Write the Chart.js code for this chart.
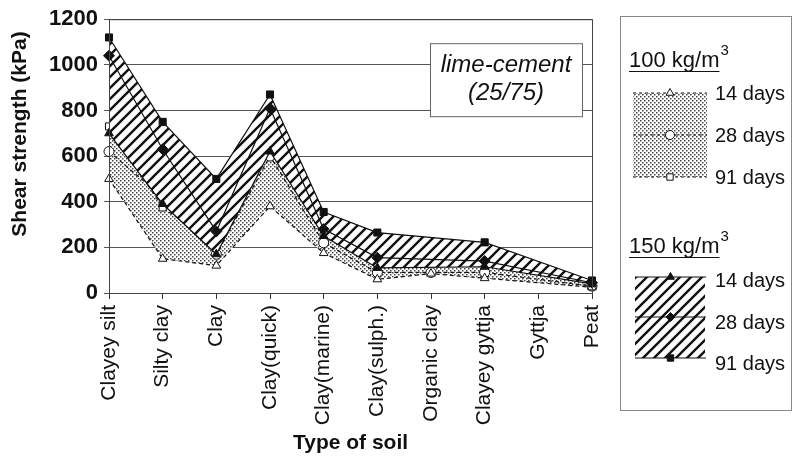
<!DOCTYPE html>
<html>
<head>
<meta charset="utf-8">
<script src="https://cdn.jsdelivr.net/npm/chart.js@4/dist/chart.umd.min.js"></script>
<style>
  html, body { margin: 0; padding: 0; background: #fff; }
  canvas { display: block; }
</style>
</head>
<body>
<canvas id="chart" width="794" height="456"></canvas>
<script>
// soil types along the x axis
var soils = ['Clayey silt', 'Silty clay', 'Clay', 'Clay(quick)', 'Clay(marine)',
             'Clay(sulph.)', 'Organic clay', 'Clayey gyttja', 'Gyttja', 'Peat'];

// shear strength (kPa), binder 150 kg/m3
var b150d14 = [700, 390, 170, 620, 250, 110, null, 115, null, 40];
var b150d28 = [1040, 630, 270, 810, 280, 155, null, 140, null, 45];
var b150d91 = [1120, 750, 500, 870, 355, 265, null, 222, null, 55];

// shear strength (kPa), binder 100 kg/m3
var b100d14 = [500, 150, 120, 380, 175, 60, 85, 65, null, 25];
var b100d28 = [620, 420, 170, 600, 220, 90, 90, 90, null, 30];
var b100d91 = [730, 375, 210, 730, 250, 120, 175, 165, null, 40];

var yTicks = [0, 200, 400, 600, 800, 1000, 1200];
var FONT = "'Liberation Sans', Arial, sans-serif";

/*
 * small tiled fills: stipple for 100 kg, diagonal hatch for 150 kg
 */
function dotPattern() {
  var c = document.createElement('canvas');
  c.width = 4; c.height = 4;
  var x = c.getContext('2d');
  x.fillStyle = '#fff';
  x.fillRect(0, 0, 4, 4);
  x.fillStyle = '#444';
  x.fillRect(0, 0, 1.5, 1.5);
  x.fillRect(2, 2, 1.5, 1.5);
  return x.createPattern(c, 'repeat');
}

function hatchPattern() {
  var s = 11;
  var c = document.createElement('canvas');
  c.width = s; c.height = s;
  var x = c.getContext('2d');
  x.fillStyle = '#fff';
  x.fillRect(0, 0, s, s);
  x.strokeStyle = '#111';
  x.lineWidth = 2.4;
  x.beginPath();
  x.moveTo(0, s); x.lineTo(s, 0);
  x.moveTo(-3, 3); x.lineTo(3, -3);
  x.moveTo(s - 3, s + 3); x.lineTo(s + 3, s - 3);
  x.stroke();
  return x.createPattern(c, 'repeat');
}

var dots = dotPattern();
var hatch = hatchPattern();

function series(data, style, filled, dashed, fill, bg) {
  return {
    data: data,
    borderColor: '#111',
    borderWidth: 1.2,
    borderDash: dashed ? [4, 3] : [],
    pointStyle: style,
    pointRadius: style == 'rectRot' ? 5.5 : 5,
    pointBorderWidth: 1,
    pointBorderColor: '#111',
    pointBackgroundColor: filled ? '#111' : '#fff',
    backgroundColor: bg || 'transparent',
    fill: fill,
    spanGaps: true,
    tension: 0
  };
}

/*
 * frame, annotation box, y title and the right-hand legend
 */
function drawKeyRow(ctx, x0, x1, y, dashed, style, filled) {
  ctx.save();
  ctx.strokeStyle = '#111';
  ctx.lineWidth = 1;
  ctx.setLineDash(dashed ? [3, 3] : []);
  ctx.beginPath();
  ctx.moveTo(x0, y); ctx.lineTo(x1, y);
  ctx.stroke();
  ctx.setLineDash([]);
  ctx.fillStyle = filled ? '#111' : '#fff';
  Chart.helpers.drawPoint(ctx, {pointStyle: style, radius: 4.5, borderWidth: 1, rotation: 0}, (x0 + x1) / 2, y);
  ctx.restore();
}

function drawHeading(ctx, text, x, y) {
  ctx.font = '22px ' + FONT;
  ctx.fillStyle = '#111';
  ctx.textAlign = 'left';
  ctx.textBaseline = 'alphabetic';
  ctx.fillText(text, x, y);
  var w = ctx.measureText(text).width;
  ctx.font = '15px ' + FONT;
  ctx.fillText('3', x + w + 1, y - 12);
  ctx.strokeStyle = '#111';
  ctx.lineWidth = 1.2;
  ctx.beginPath();
  ctx.moveTo(x, y + 4.5); ctx.lineTo(x + w, y + 4.5);
  ctx.stroke();
}

var decor = {
  id: 'decor',
  afterDatasetsDraw: function(chart) {
    var ctx = chart.ctx;
    var a = chart.chartArea;
    ctx.save();
    // plot frame
    ctx.strokeStyle = '#444';
    ctx.lineWidth = 1;
    ctx.strokeRect(a.left + 0.5, a.top + 0.5, a.right - a.left, a.bottom - a.top);

    // y axis title, sits a bit above the plot centre in the original
    ctx.save();
    ctx.translate(20, 134);
    ctx.rotate(-Math.PI / 2);
    ctx.fillStyle = '#111';
    ctx.font = 'bold 21px ' + FONT;
    ctx.textAlign = 'center';
    ctx.textBaseline = 'middle';
    ctx.fillText('Shear strength (kPa)', 0, 0);
    ctx.restore();

    // lime-cement box
    var bx = a.right - 162, by = a.top + 24, bw = 152, bh = 73;
    ctx.fillStyle = '#fff';
    ctx.fillRect(bx, by, bw, bh);
    ctx.strokeStyle = '#666';
    ctx.strokeRect(bx + 0.5, by + 0.5, bw, bh);
    ctx.fillStyle = '#111';
    ctx.font = 'italic 24px ' + FONT;
    ctx.textAlign = 'center';
    ctx.textBaseline = 'middle';
    ctx.fillText('lime-cement', bx + bw / 2, by + 22);
    ctx.fillText('(25/75)', bx + bw / 2, by + 50);

    // legend box
    var lx = 620;
    ctx.strokeStyle = '#888';
    ctx.strokeRect(lx + 0.5, 16.5, 171, 394);

    drawHeading(ctx, '100 kg/m', 629, 67);
    ctx.fillStyle = dots;
    ctx.fillRect(633, 93, 74, 84);
    drawKeyRow(ctx, 633, 707, 93, true, 'triangle', false);
    drawKeyRow(ctx, 633, 707, 135, true, 'circle', false);
    drawKeyRow(ctx, 633, 707, 177, true, 'rect', false);

    drawHeading(ctx, '150 kg/m', 629, 253);
    ctx.fillStyle = hatch;
    ctx.fillRect(635, 277, 70, 81);
    drawKeyRow(ctx, 635, 706, 277, false, 'triangle', true);
    drawKeyRow(ctx, 635, 706, 317, false, 'rectRot', true);
    drawKeyRow(ctx, 635, 706, 358, false, 'rect', true);

    ctx.fillStyle = '#111';
    ctx.font = '20px ' + FONT;
    ctx.textAlign = 'left';
    ctx.textBaseline = 'middle';
    ctx.fillText('14 days', 715, 94);
    ctx.fillText('28 days', 715, 136);
    ctx.fillText('91 days', 715, 178);
    ctx.fillText('14 days', 715, 281);
    ctx.fillText('28 days', 715, 323);
    ctx.fillText('91 days', 715, 364);
    ctx.restore();
  }
};

var chart = new Chart('chart', {
  type: 'line',
  data: {
    labels: soils,
    datasets: [
      series(b150d14, 'triangle', true, false, false),
      series(b150d28, 'rectRot', true, false, false),
      series(b150d91, 'rect', true, false, 0, hatch),
      series(b100d14, 'triangle', false, true, false),
      series(b100d28, 'circle', false, true, false),
      series(b100d91, 'rect', false, true, 3, dots)
    ]
  },
  options: {
    responsive: false,
    animation: false,
    layout: { padding: { left: 4, right: 202, top: 18, bottom: 0 } },
    plugins: {
      legend: { display: false },
      tooltip: { enabled: false },
      filler: { propagate: false }
    },
    scales: {
      x: {
        offset: false,
        grid: { drawOnChartArea: false, drawTicks: true, tickLength: 6, color: '#333' },
        border: { color: '#333' },
        ticks: {
          autoSkip: false, maxRotation: 90, minRotation: 90, padding: 6,
          color: '#111', font: { family: FONT, size: 21 }
        },
        title: {
          display: true, text: 'Type of soil', color: '#111',
          font: { family: FONT, size: 21, weight: 'bold' }, padding: { top: 0, bottom: 0 }
        },
        afterFit: function(scale) { scale.height = 163; }
      },
      y: {
        min: 0, max: 1200,
        afterBuildTicks: function(scale) { scale.ticks = yTicks.map(function(v) { return {value: v}; }); },
        grid: { color: '#555', lineWidth: 1, tickLength: 5 },
        border: { color: '#333' },
        ticks: {
          color: '#111', padding: 6, font: { family: FONT, size: 22, weight: 'bold' },
          callback: function(v) { return String(v); }
        },
        title: { display: false },
        afterFit: function(scale) { scale.width = 105; }
      }
    }
  },
  plugins: [decor]
});
</script>
</body>
</html>
